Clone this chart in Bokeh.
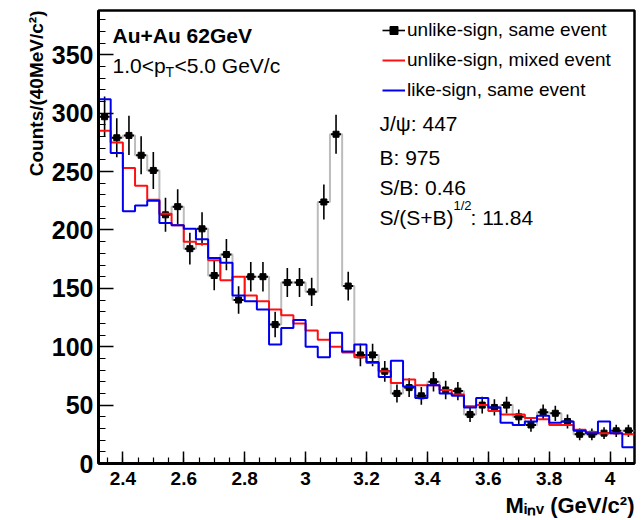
import numpy as np
from bokeh.plotting import figure
from bokeh.models import Label, Legend, LegendItem, FixedTicker, Range1d, Title
from bokeh.embed import file_html
from bokeh.resources import INLINE

# ---------------- data ----------------
bin_low = 2.32          # GeV/c^2, first bin edge
bin_width = 0.04        # 40 MeV bins
# unlike-sign, same event (counts per bin)
same_event = [297, 279, 281, 264, 251, 213, 220, 184, 201, 161, 179, 140, 160, 160,
              119, 155, 155, 147, 224, 282, 152, 93, 93, 79, 60, 65, 58, 70, 63, 62,
              42, 50, 48, 50, 40, 33, 44, 43, 36, 25, 25, 26, 28, 28]
# unlike-sign, mixed event (normalised)
mixed_event = [285, 275, 253, 238, 226, 214, 204, 190, 188, 174, 157, 160, 144, 139,
               132, 127, 120, 114, 106, 100, 95, 91, 86, 79, 69, 72, 67, 67, 63, 59,
               49, 50, 45, 42, 42, 39, 38, 33, 33, 29, 27, 26, 26, 25]
# like-sign, same event
like_sign = [312, 266, 216, 221, 225, 206, 204, 201, 192, 176, 172, 144, 139, 132,
             102, 116, 123, 100, 91, 112, 96, 102, 87, 74, 88, 66, 56, 67, 60, 58,
             48, 56, 48, 35, 33, 36, 41, 35, 36, 28, 26, 36, 26, 14]

x_ticks = [2.4, 2.6, 2.8, 3.0, 3.2, 3.4, 3.6, 3.8, 4.0]
x_tick_labels = ["2.4", "2.6", "2.8", "3", "3.2", "3.4", "3.6", "3.8", "4"]
y_ticks = [0, 50, 100, 150, 200, 250, 300, 350]
y_tick_labels = ["0", "50", "100", "150", "200", "250", "300", "350"]

legend_labels = ["unlike-sign, same event", "unlike-sign, mixed event", "like-sign, same event"]
stat_lines = ["J/\u03c8: 447", "B: 975", "S/B: 0.46"]
x_title = "M\u1d62\u2099\u1d65 (GeV/c\u00b2)"
y_title = "Counts/(40MeV/c\u00b2)"

# ---------------- derived ----------------
n = len(same_event)
edges = np.round(bin_low + bin_width * np.arange(n + 1), 4)
centers = edges[:-1] + bin_width / 2
same_arr = np.array(same_event, dtype=float)
err = np.sqrt(same_arr)  # Poisson errors

X0, X1 = 2.32, 4.08
Y0, Y1 = 0, 388
W, H = 643, 520
FL, FR, FT, FB = 98, 9, 10, 56   # frame borders (px)
fw, fh = W - FL - FR, H - FT - FB

def X(px):
    return X0 + (px - FL) * (X1 - X0) / fw

def Y(py):
    return Y0 + (H - FB - py) * (Y1 - Y0) / fh

p = figure(width=W, height=H, x_range=Range1d(X0, X1), y_range=Range1d(Y0, Y1),
           output_backend="svg", toolbar_location=None,
           min_border_left=FL, min_border_right=FR, min_border_top=FT, min_border_bottom=FB)
p.title.visible = False
p.grid.visible = False
p.outline_line_color = "black"
p.outline_line_width = 2.5
p.background_fill_color = "white"
p.border_fill_color = "white"

FONT = "Liberation Sans"

xa = p.xaxis[0]
xa.ticker = FixedTicker(ticks=x_ticks, minor_ticks=list(np.round(np.arange(2.35, 4.08, 0.05), 2)))
xa.major_label_overrides = dict(zip(x_ticks, x_tick_labels))
xa.major_label_text_font = FONT
xa.major_label_text_font_style = "bold"
xa.major_label_text_font_size = "19px"
xa.major_label_text_color = "black"
xa.major_label_standoff = 8
xa.major_tick_in = 12
xa.major_tick_out = 0
xa.minor_tick_in = 6
xa.minor_tick_out = 0

ya = p.yaxis[0]
ya.ticker = FixedTicker(ticks=y_ticks, minor_ticks=list(range(0, 390, 10)))
ya.major_label_overrides = dict(zip(y_ticks, y_tick_labels))
ya.major_label_text_font = FONT
ya.major_label_text_font_style = "bold"
ya.major_label_text_font_size = "25px"
ya.major_label_text_color = "black"
ya.major_label_standoff = 5
ya.major_tick_in = 15
ya.major_tick_out = 0
ya.minor_tick_in = 7
ya.minor_tick_out = 0

for ax in (xa, ya):
    ax.axis_line_width = 3
    ax.axis_line_color = "black"
    ax.major_tick_line_width = 1.5
    ax.minor_tick_line_width = 1.2
    ax.major_tick_line_color = "black"
    ax.minor_tick_line_color = "black"

# axis titles as side-panel titles (right / top aligned like ROOT)
p.add_layout(Title(text=x_title, align="right", text_font=FONT, text_font_style="bold",
                   text_font_size="22px", text_color="black", standoff=6), "below")
p.add_layout(Title(text=y_title, align="right", text_font=FONT, text_font_style="bold",
                   text_font_size="19px", text_color="black", standoff=4, offset=0), "left")
# empty spacer panel that pushes the y title inwards
p.add_layout(Title(text=" ", text_font=FONT, text_font_size="12px", standoff=3), "left")

# ---------------- histograms ----------------
p.step(edges, same_event + [same_event[-1]], mode="after", line_color="#bcbcbc", line_width=2)
r_err = p.segment(centers, same_arr - err, centers, same_arr + err, line_color="black", line_width=1.6)
r_dash = p.scatter(centers, same_arr, marker="dash", size=10, line_color="black", line_width=2)
r_sq = p.scatter(centers, same_arr, marker="square", size=6, fill_color="black", line_color="black")
r_mix = p.step(edges, mixed_event + [mixed_event[-1]], mode="after", line_color="#ff1010", line_width=2)
r_like = p.step(edges, like_sign + [like_sign[-1]], mode="after", line_color="#0000ee", line_width=2)

# ---------------- legend ----------------
legend = Legend(items=[LegendItem(label=legend_labels[0], renderers=[r_err, r_sq]),
                       LegendItem(label=legend_labels[1], renderers=[r_mix]),
                       LegendItem(label=legend_labels[2], renderers=[r_like])],
                location=(382 - FL, H - FB - 102),
                border_line_color=None, background_fill_alpha=0,
                padding=0, margin=0, spacing=8, glyph_width=23, glyph_height=20,
                label_standoff=2, label_height=20,
                label_text_font=FONT, label_text_font_size="19px", label_text_color="black")
p.add_layout(legend)

# ---------------- texts ----------------
def lab(px, py, text, size, bold=False, align="left", baseline="alphabetic"):
    p.add_layout(Label(x=X(px), y=Y(py), text=text, text_font=FONT,
                       text_font_style="bold" if bold else "normal",
                       text_font_size=f"{size}px", text_color="black",
                       text_align=align, text_baseline=baseline))

lab(112, 35, "Au+Au 62GeV", 21, bold=True)
lab(112, 65, "1.0<p", 21)
lab(165, 72, "T", 14)
lab(174, 65, "<5.0 GeV/c", 21)

for txt, yb in zip(stat_lines, [123, 157, 187]):
    lab(379, yb, txt, 21)
lab(379, 217, "S/(S+B)", 21)
lab(453, 205, "1/2", 13)
lab(470, 217, ": 11.84", 21)

open("out.html", "w").write(file_html(p, INLINE))
